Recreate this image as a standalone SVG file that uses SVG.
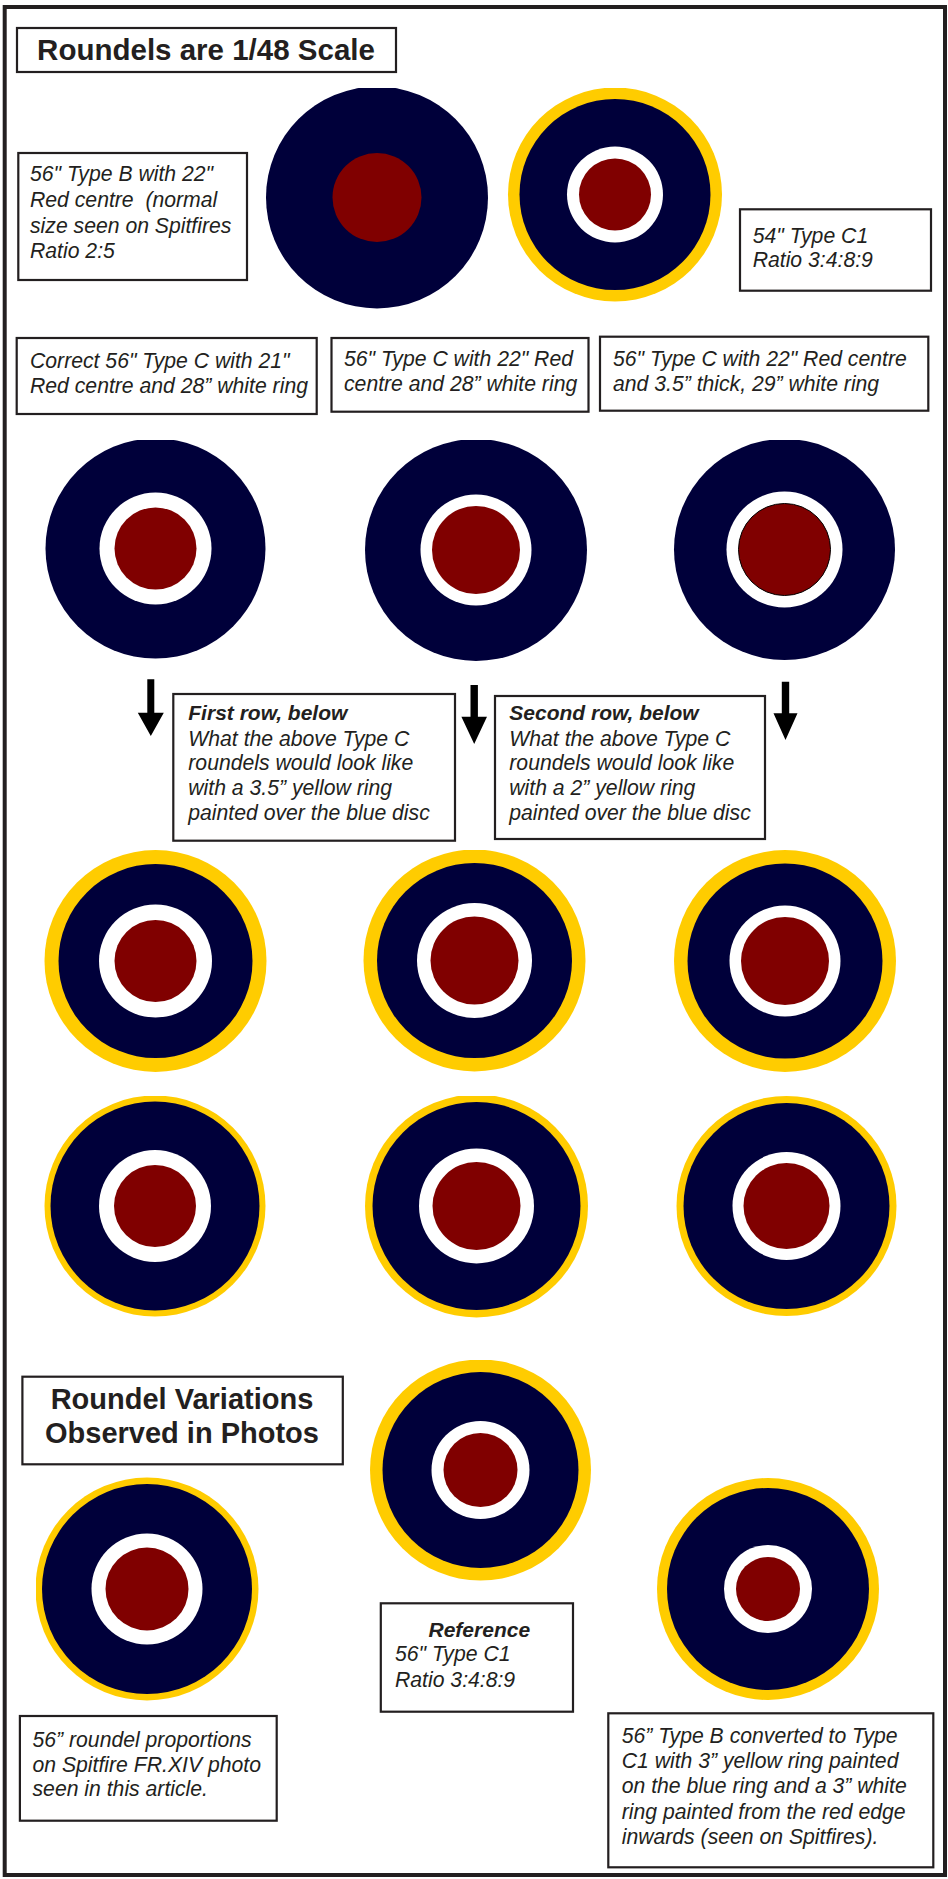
<svg xmlns="http://www.w3.org/2000/svg" width="948" height="1879" viewBox="0 0 948 1879">
<style>
.box{fill:#fff;stroke:#231f20;stroke-width:2.2}
.t{font-family:"Liberation Sans",Arial,sans-serif;font-size:21.2px;font-style:italic;fill:#231f20;white-space:pre}
.tb{font-family:"Liberation Sans",Arial,sans-serif;font-size:21px;font-style:italic;font-weight:bold;fill:#231f20}
.h{font-family:"Liberation Sans",Arial,sans-serif;font-weight:bold;fill:#231f20}
.y{fill:#ffcc00}
.b{fill:#00003a}
.w{fill:#fff}
.r{fill:#800000}
.arr{fill:#000}
</style>
<defs>
<clipPath id="cTop"><rect x="0" y="88" width="948" height="240"/></clipPath>
<clipPath id="cR2"><rect x="44" y="440" width="904" height="240"/></clipPath>
<clipPath id="cR3"><rect x="44" y="850" width="904" height="240"/></clipPath>
<clipPath id="cR4"><rect x="0" y="1096" width="948" height="240"/></clipPath>
<clipPath id="cRef"><rect x="0" y="1360" width="948" height="240"/></clipPath>
<clipPath id="cBot"><rect x="36" y="1477" width="912" height="240"/></clipPath>
</defs>
<rect x="0" y="0" width="948" height="1879" fill="#fff"/>
<rect id="frame" x="4.7" y="7" width="940.3" height="1868" fill="none" stroke="#231f20" stroke-width="4"/>

<g id="title">
<rect class="box" x="17" y="28" width="379" height="44"/>
<text class="h" x="206" y="59.5" font-size="29.5" text-anchor="middle">Roundels are 1/48 Scale</text>
</g>

<g id="label-typeB">
<rect class="box" x="18.3" y="153" width="228.7" height="127"/>
<text class="t" x="30" y="181">56" Type B with 22"</text>
<text class="t" x="30" y="207">Red centre  (normal</text>
<text class="t" x="30" y="233">size seen on Spitfires</text>
<text class="t" x="30" y="258">Ratio 2:5</text>
</g>

<g id="roundel-typeB" clip-path="url(#cTop)">
<circle class="b" cx="377" cy="197.5" r="111"/>
<circle class="r" cx="377" cy="197.5" r="44.5"/>
</g>

<g id="roundel-typeC1-54" clip-path="url(#cTop)">
<circle class="y" cx="615" cy="194.5" r="107"/>
<circle class="b" cx="615" cy="194.5" r="95.5"/>
<circle class="w" cx="615" cy="194.5" r="48"/>
<circle class="r" cx="615" cy="194.5" r="36"/>
</g>

<g id="label-typeC1-54">
<rect class="box" x="740" y="209.3" width="191" height="81.4"/>
<text class="t" x="752.7" y="243">54" Type C1</text>
<text class="t" x="752.7" y="267">Ratio 3:4:8:9</text>
</g>

<g id="label-c1">
<rect class="box" x="16.7" y="338" width="300" height="76"/>
<text class="t" x="30" y="368">Correct 56" Type C with 21"</text>
<text class="t" x="30" y="393">Red centre and 28” white ring</text>
</g>
<g id="label-c2">
<rect class="box" x="331.5" y="338" width="257" height="73.7"/>
<text class="t" x="344" y="365.5">56" Type C with 22" Red</text>
<text class="t" x="344" y="391">centre and 28” white ring</text>
</g>
<g id="label-c3">
<rect class="box" x="600" y="336.7" width="328.3" height="74"/>
<text class="t" x="613" y="365.5">56" Type C with 22" Red centre</text>
<text class="t" x="613" y="390.5">and 3.5” thick, 29” white ring</text>
</g>

<g id="roundel-c1" clip-path="url(#cR2)">
<circle class="b" cx="155.5" cy="548.5" r="110"/>
<circle class="w" cx="155.5" cy="548.5" r="56"/>
<circle class="r" cx="155.5" cy="548.5" r="41"/>
</g>
<g id="roundel-c2" clip-path="url(#cR2)">
<circle class="b" cx="476" cy="550" r="111"/>
<circle class="w" cx="476" cy="550" r="55.5"/>
<circle class="r" cx="476" cy="550" r="44"/>
</g>
<g id="roundel-c3" clip-path="url(#cR2)">
<circle class="b" cx="784.5" cy="549.5" r="110.5"/>
<circle class="w" cx="784.5" cy="549.5" r="58"/>
<circle class="r" cx="784.5" cy="549.5" r="46" stroke="#000" stroke-width="1"/>
</g>

<g id="connectors">
<polygon class="arr" points="147.3,679.3 154.3,679.3 154.3,712.7 163.8,712.7 150.8,736 137.8,712.7 147.3,712.7"/>
<polygon class="arr" points="470.5,685 477.9,685 477.9,716.7 487,716.7 474.2,744 461.4,716.7 470.5,716.7"/>
<polygon class="arr" points="781.8,681.7 789.2,681.7 789.2,713.3 797.5,713.3 785.5,740 773.5,713.3 781.8,713.3"/>
</g>

<g id="label-row1">
<rect class="box" x="173.3" y="694" width="281.7" height="146.7"/>
<text class="tb" x="188.3" y="720">First row, below</text>
<text class="t" x="188.3" y="746">What the above Type C</text>
<text class="t" x="188.3" y="770">roundels would look like</text>
<text class="t" x="188.3" y="794.5">with a 3.5” yellow ring</text>
<text class="t" x="188.3" y="819.5">painted over the blue disc</text>
</g>
<g id="label-row2">
<rect class="box" x="495" y="696" width="270" height="143"/>
<text class="tb" x="509.3" y="720">Second row, below</text>
<text class="t" x="509.3" y="746">What the above Type C</text>
<text class="t" x="509.3" y="770">roundels would look like</text>
<text class="t" x="509.3" y="794.5">with a 2” yellow ring</text>
<text class="t" x="509.3" y="819.5">painted over the blue disc</text>
</g>

<g id="roundel-y35-1" clip-path="url(#cR3)">
<circle class="y" cx="155.5" cy="961" r="111"/>
<circle class="b" cx="155.5" cy="961" r="97"/>
<circle class="w" cx="155.5" cy="961" r="56.5"/>
<circle class="r" cx="155.5" cy="961" r="41"/>
</g>
<g id="roundel-y35-2" clip-path="url(#cR3)">
<circle class="y" cx="474.5" cy="960.5" r="111"/>
<circle class="b" cx="474.5" cy="960.5" r="97.5"/>
<circle class="w" cx="474.5" cy="960.5" r="57.5"/>
<circle class="r" cx="474.5" cy="960.5" r="44"/>
</g>
<g id="roundel-y35-3" clip-path="url(#cR3)">
<circle class="y" cx="785" cy="961" r="111"/>
<circle class="b" cx="785" cy="961" r="97.5"/>
<circle class="w" cx="785" cy="961" r="55.5"/>
<circle class="r" cx="785" cy="961" r="44"/>
</g>

<g id="roundel-y2-1" clip-path="url(#cR4)">
<circle class="y" cx="155" cy="1206" r="110.5"/>
<circle class="b" cx="155" cy="1206" r="104.5"/>
<circle class="w" cx="155" cy="1206" r="56"/>
<circle class="r" cx="155" cy="1206" r="41"/>
</g>
<g id="roundel-y2-2" clip-path="url(#cR4)">
<circle class="y" cx="476.5" cy="1206" r="111.5"/>
<circle class="b" cx="476.5" cy="1206" r="104"/>
<circle class="w" cx="476.5" cy="1206" r="57.5"/>
<circle class="r" cx="476.5" cy="1206" r="44"/>
</g>
<g id="roundel-y2-3" clip-path="url(#cR4)">
<circle class="y" cx="786.5" cy="1206" r="110"/>
<circle class="b" cx="786.5" cy="1206" r="103"/>
<circle class="w" cx="786.5" cy="1206" r="54"/>
<circle class="r" cx="786.5" cy="1206" r="43"/>
</g>

<g id="heading-variations">
<rect class="box" x="22.4" y="1376.7" width="320.4" height="87.6"/>
<text class="h" x="182" y="1408.5" font-size="29" text-anchor="middle">Roundel Variations</text>
<text class="h" x="182" y="1442.7" font-size="29" text-anchor="middle">Observed in Photos</text>
</g>

<g id="roundel-reference" clip-path="url(#cRef)">
<circle class="y" cx="480.5" cy="1470" r="110.5"/>
<circle class="b" cx="480.5" cy="1470" r="98"/>
<circle class="w" cx="480.5" cy="1470" r="49"/>
<circle class="r" cx="480.5" cy="1470" r="37"/>
</g>

<g id="roundel-photo" clip-path="url(#cBot)">
<circle class="y" cx="147" cy="1589" r="111.5"/>
<circle class="b" cx="147" cy="1589" r="105"/>
<circle class="w" cx="147" cy="1589" r="55.5"/>
<circle class="r" cx="147" cy="1589" r="41.5"/>
</g>

<g id="roundel-converted" clip-path="url(#cBot)">
<circle class="y" cx="768" cy="1589" r="111"/>
<circle class="b" cx="768" cy="1589" r="101"/>
<circle class="w" cx="768" cy="1589" r="44"/>
<circle class="r" cx="768" cy="1589" r="32"/>
</g>

<g id="label-reference">
<rect class="box" x="380.8" y="1603.3" width="192.2" height="108.4"/>
<text class="tb" x="479.3" y="1636.7" text-anchor="middle">Reference</text>
<text class="t" x="395" y="1661">56" Type C1</text>
<text class="t" x="395" y="1687">Ratio 3:4:8:9</text>
</g>

<g id="label-photo">
<rect class="box" x="19.9" y="1716" width="256.8" height="104.7"/>
<text class="t" x="32.5" y="1746.7">56” roundel proportions</text>
<text class="t" x="32.5" y="1771.7">on Spitfire FR.XIV photo</text>
<text class="t" x="32.5" y="1795.5">seen in this article.</text>
</g>

<g id="label-converted">
<rect class="box" x="608.3" y="1713.3" width="325" height="154"/>
<text class="t" x="621.7" y="1743.3">56” Type B converted to Type</text>
<text class="t" x="621.7" y="1767.7">C1 with 3” yellow ring painted</text>
<text class="t" x="621.7" y="1793.3">on the blue ring and a 3” white</text>
<text class="t" x="621.7" y="1819.3">ring painted from the red edge</text>
<text class="t" x="621.7" y="1844">inwards (seen on Spitfires).</text>
</g>
</svg>
